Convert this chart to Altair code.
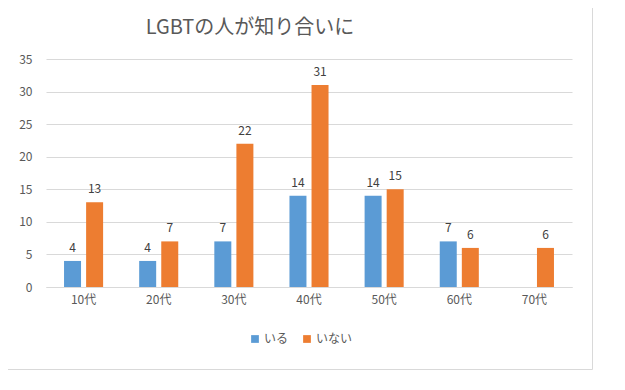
import altair as alt
import pandas as pd

categories = ["10代", "20代", "30代", "40代", "50代", "60代", "70代"]
series = ["いる", "いない"]
iru = [4, 4, 7, 14, 14, 7, None]
inai = [13, 7, 22, 31, 15, 6, 6]
colors = ["#5B9BD5", "#ED7D31"]
y_ticks = [0, 5, 10, 15, 20, 25, 30, 35]

rows = []
for c, a, b in zip(categories, iru, inai):
    if a is not None:
        rows.append({"age": c, "group": series[0], "value": a})
    if b is not None:
        rows.append({"age": c, "group": series[1], "value": b})
df = pd.DataFrame(rows)

FONT = "Noto Sans CJK JP"

x = alt.X("age:N", sort=categories, title=None,
          scale=alt.Scale(domain=categories, paddingInner=0.48, paddingOuter=0.24),
          axis=alt.Axis(labelAngle=0, ticks=False, domainColor="#d9d9d9",
                        labelColor="#595959", labelFontSize=12, labelFont=FONT,
                        labelPadding=7))
xoff = alt.XOffset("group:N", sort=series,
                   scale=alt.Scale(domain=series, paddingInner=0.23, paddingOuter=0))
y = alt.Y("value:Q", title=None,
          scale=alt.Scale(domain=[0, 35], nice=False),
          axis=alt.Axis(values=y_ticks, ticks=False, domain=False,
                        gridColor="#d9d9d9", labelColor="#595959",
                        labelFontSize=12, labelFont=FONT, labelPadding=14))
color = alt.Color("group:N", sort=series,
                  scale=alt.Scale(domain=series, range=colors),
                  legend=alt.Legend(title=None, orient="none", direction="horizontal",
                                    legendX=203, legendY=274, symbolType="square",
                                    symbolSize=60, symbolStrokeWidth=0,
                                    labelFont=FONT, labelFontSize=12,
                                    labelColor="#595959", columnPadding=12,
                                    labelOffset=3))

bars = alt.Chart(df).mark_bar().encode(x=x, xOffset=xoff, y=y, color=color)
labels = alt.Chart(df).mark_text(baseline="bottom", dy=-6, font=FONT,
                                 fontSize=12, color="#404040").encode(
    x=x, xOffset=xoff, y=y, text="value:Q")

frame = alt.Chart(pd.DataFrame({"k": [0]})).mark_rect(
    fill=None, stroke="#d9d9d9", strokeWidth=1).encode(
    x=alt.value(-38.5), x2=alt.value(546.5), y=alt.value(-55), y2=alt.value(310.5))

chart = alt.layer(frame, bars, labels).properties(
    width=526, height=228,
    autosize=alt.AutoSizeParams(type="none"),
    padding={"left": 38, "top": 51, "right": 40, "bottom": 88},
    title=alt.TitleParams("LGBTの人が知り合いに", font=FONT, fontSize=20,
                          fontWeight="normal", color="#595959", anchor="middle",
                          dx=-59, offset=-50, baseline="alphabetic"),
).configure_view(stroke=None)

chart.save("out.html", embed_options={"renderer": "svg", "actions": False})
